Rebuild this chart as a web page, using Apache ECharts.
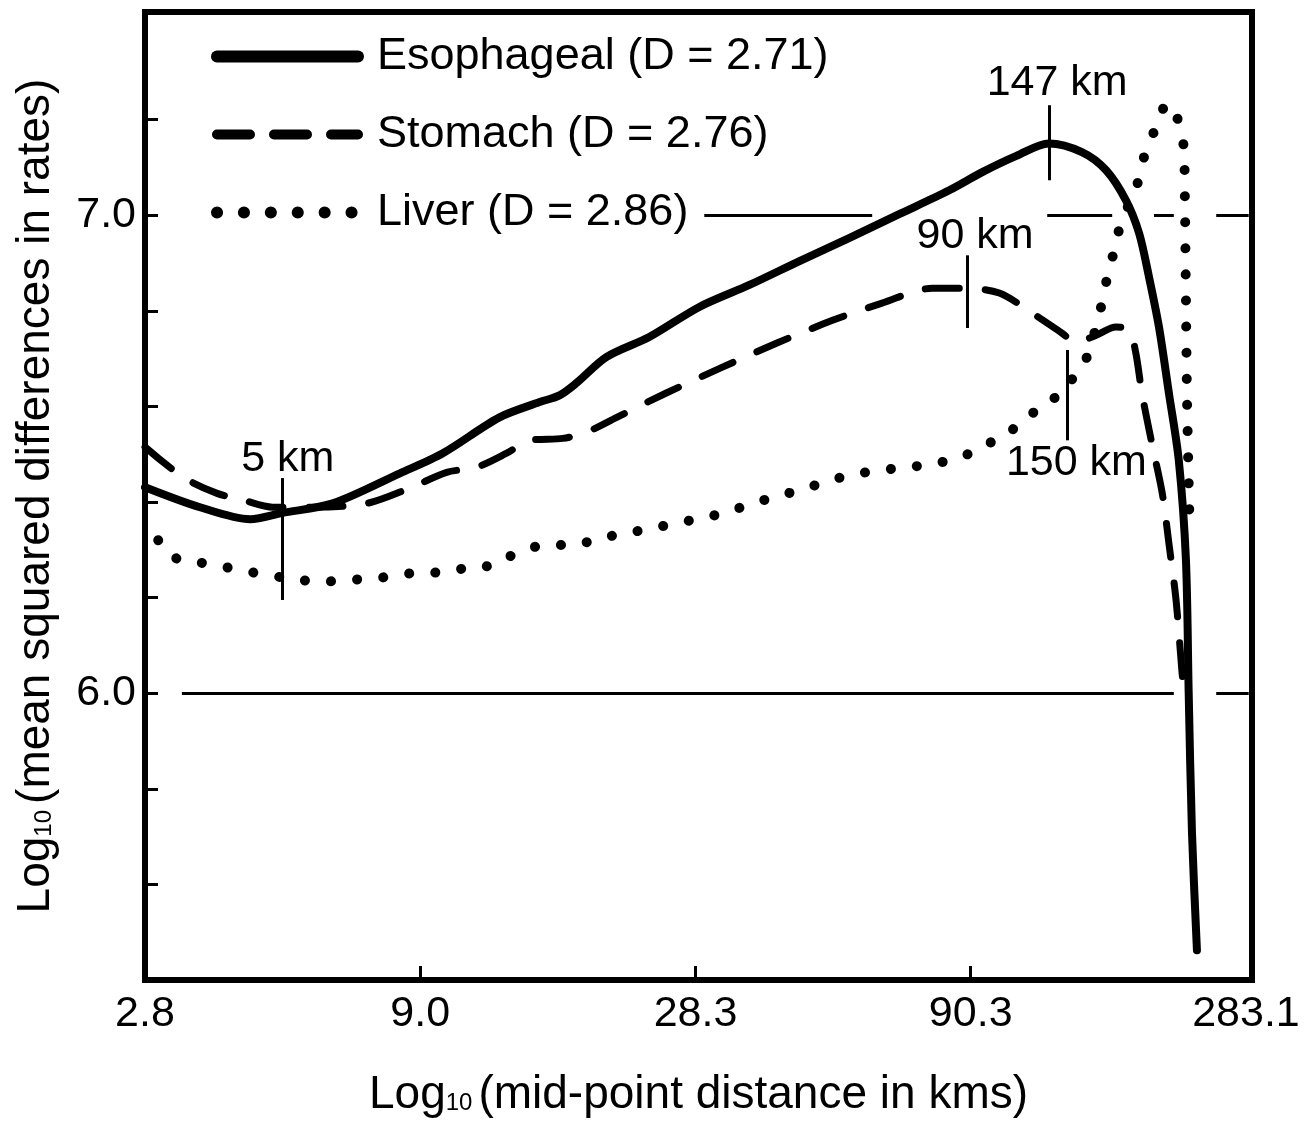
<!DOCTYPE html>
<html><head><meta charset="utf-8">
<script src="https://cdn.jsdelivr.net/npm/echarts@6/dist/echarts.min.js"></script>
<style>html,body{margin:0;padding:0;background:#fff}#c{width:1313px;height:1126px}</style>
</head><body><div id="c"></div>
<script>
// x values are log10(mid-point distance in km) positions on the axis
const xTickValues = [0.45, 0.95, 1.45, 1.95, 2.45];
const xTickLabels = ['2.8', '9.0', '28.3', '90.3', '283.1'];
const xInnerTicks = [0.95, 1.45, 1.95];
const yTickValues = [5.6, 5.8, 6.0, 6.2, 6.4, 6.6, 6.8, 7.0, 7.2];
const yLabelValues = [6.0, 7.0];
const seriesNames = ['Esophageal (D = 2.71)', 'Stomach (D = 2.76)', 'Liver (D = 2.86)'];

const esophageal = [
  [0.45,6.431],[0.55,6.389],[0.641,6.364],[0.699,6.377],[0.791,6.397],[0.913,6.46],[0.991,6.502],
  [1.094,6.577],[1.167,6.609],[1.203,6.623],[1.234,6.649],[1.288,6.703],[1.366,6.745],[1.457,6.808],
  [1.548,6.854],[1.639,6.904],[1.729,6.952],[1.82,7.002],[1.911,7.052],[1.971,7.09],[2.033,7.124],
  [2.092,7.15],[2.152,7.132],[2.196,7.094],[2.232,7.031],[2.256,6.962],[2.274,6.87],[2.292,6.766],
  [2.31,6.628],[2.328,6.487],[2.341,6.278],[2.346,6.0],[2.352,5.707],[2.361,5.462]
];
const stomach = [
  [0.45,6.515],[0.519,6.452],[0.581,6.418],[0.628,6.404],[0.682,6.389],[0.755,6.389],[0.853,6.397],
  [0.931,6.429],[0.998,6.462],[1.053,6.473],[1.107,6.502],[1.149,6.529],[1.209,6.533],[1.252,6.546],
  [1.307,6.577],[1.397,6.628],[1.499,6.682],[1.597,6.732],[1.699,6.78],[1.789,6.816],[1.88,6.847],
  [1.942,6.847],[2.002,6.837],[2.062,6.795],[2.116,6.753],[2.141,6.734],[2.178,6.749],[2.214,6.766],
  [2.238,6.759],[2.25,6.711],[2.261,6.628],[2.279,6.523],[2.298,6.418],[2.31,6.314],[2.323,6.195],
  [2.334,6.042],[2.337,6.01]
];
const liver = [
  [0.474,6.32],[0.501,6.285],[0.546,6.274],[0.595,6.264],[0.644,6.253],[0.695,6.243],[0.739,6.236],
  [0.786,6.234],[0.835,6.238],[0.889,6.243],[0.936,6.251],[0.985,6.253],[1.036,6.262],[1.082,6.268],
  [1.125,6.293],[1.18,6.31],[1.227,6.31],[1.276,6.324],[1.325,6.335],[1.372,6.345],[1.416,6.356],
  [1.461,6.366],[1.508,6.379],[1.548,6.395],[1.593,6.41],[1.639,6.425],[1.684,6.441],[1.729,6.456],
  [1.771,6.464],[1.82,6.471],[1.866,6.477],[1.911,6.487],[1.953,6.504],[1.993,6.529],[2.029,6.554],
  [2.065,6.588],[2.096,6.613],[2.123,6.634],[2.138,6.665],[2.161,6.703],[2.189,6.818],[2.198,6.87],
  [2.21,6.923],[2.223,6.983],[2.25,7.056],[2.261,7.1],[2.268,7.136],[2.287,7.184],[2.307,7.234],
  [2.328,7.195],[2.337,7.14],[2.339,7.036],[2.341,6.822],[2.343,6.613],[2.347,6.383]
];
// reference lines: [y, xStart, xEnd]
const refLines = [
  [7.0, 1.466, 1.771], [7.0, 2.089, 2.207], [7.0, 2.283, 2.319], [7.0, 2.396, 2.455],
  [6.0, 0.517, 2.319], [6.0, 2.396, 2.455]
];
// annotations: text, tick x, tick y range, label position
const annotations = [
  {text: '5 km',   x: 0.699, y0: 6.195, y1: 6.45,  lx: 0.7095, ly: 6.49},
  {text: '147 km', x: 2.092, y0: 7.073, y1: 7.23,  lx: 2.107,  ly: 7.276},
  {text: '90 km',  x: 1.944, y0: 6.764, y1: 6.916, lx: 1.958,  ly: 6.956},
  {text: '150 km', x: 2.125, y0: 6.529, y1: 6.718, lx: 2.142,  ly: 6.482}
];

const FONT = 'Liberation Sans, Arial, sans-serif';
const chart = echarts.init(document.getElementById('c'), null, {renderer: 'canvas'});

const markLineData = refLines.map(r => [{coord: [r[1], r[0]]}, {coord: [r[2], r[0]]}])
  .concat(annotations.map(a => [{coord: [a.x, a.y0]}, {coord: [a.x, a.y1]}]));

const nameRich = {
  a: {fontSize: 46, fontFamily: FONT, color: '#000'},
  s: {fontSize: 24, fontFamily: FONT, color: '#000', padding: [16, 6, 0, 0]}
};

chart.setOption({
  animation: false,
  backgroundColor: '#fff',
  grid: {left: 145, right: 61, top: 12, bottom: 146, show: true, borderColor: '#000', borderWidth: 6,
         backgroundColor: 'transparent', containLabel: false, outerBoundsMode: 'none'},
  legend: {
    orient: 'vertical', left: 206, top: 29, padding: 5, itemWidth: 141, itemHeight: 14, itemGap: 33,
    selectedMode: false,
    itemStyle: {opacity: 0},
    formatter: n => '{t|' + n + '}',
    textStyle: {fontSize: 45, fontFamily: FONT, color: '#000',
      rich: {t: {fontSize: 45, fontFamily: FONT, color: '#000', lineHeight: 50, padding: [0, 0, 0, 14]}}},
    data: [
      {name: seriesNames[0], lineStyle: {width: 12, type: 'solid', cap: 'round', color: '#000'}},
      {name: seriesNames[1], lineStyle: {width: 10, type: [33, 24], cap: 'round', color: '#000'}},
      {name: seriesNames[2], lineStyle: {width: 12, type: [0.1, 26.8], cap: 'round', color: '#000'}}
    ]
  },
  xAxis: {
    type: 'value', min: 0.45, max: 2.461,
    axisLine: {show: false},
    splitLine: {show: false},
    axisTick: {show: true, inside: true, length: 14, customValues: xInnerTicks, lineStyle: {color: '#000', width: 3}},
    axisLabel: {customValues: xTickValues, fontSize: 43, fontFamily: FONT, color: '#000', margin: 13,
      formatter: v => { const i = xTickValues.findIndex(t => Math.abs(t - v) < 1e-6); return i >= 0 ? xTickLabels[i] : ''; }},
    name: '{a|Log}{s|10}{a|(mid-point distance in kms)}',
    nameLocation: 'middle', nameGap: 92,
    nameTextStyle: {fontSize: 46, fontFamily: FONT, color: '#000', rich: nameRich}
  },
  yAxis: {
    type: 'value', min: 5.4, max: 7.425,
    axisLine: {show: false},
    splitLine: {show: false},
    axisTick: {show: true, inside: true, length: 13, customValues: yTickValues, lineStyle: {color: '#000', width: 3}},
    axisLabel: {customValues: yLabelValues, fontSize: 43, fontFamily: FONT, color: '#000', margin: 9,
      formatter: v => v.toFixed(1)},
    name: '{a|Log}{s|10}{a|(mean squared differences in rates)}',
    nameLocation: 'middle', nameGap: 86, nameRotate: 90,
    nameTextStyle: {fontSize: 46, fontFamily: FONT, color: '#000', rich: nameRich}
  },
  series: [
    {
      name: '__annot', type: 'scatter', symbolSize: 1, itemStyle: {color: 'rgba(0,0,0,0)', opacity: 1},
      silent: true, z: 1,
      data: annotations.map(a => [a.lx, a.ly, a.text]),
      label: {show: true, position: 'inside', formatter: p => p.value[2], fontSize: 43, fontFamily: FONT,
              color: '#000', opacity: 1, textBorderWidth: 0},
      labelLayout: {hideOverlap: false},
      markLine: {silent: true, symbol: ['none', 'none'], label: {show: false},
        lineStyle: {type: 'solid', width: 3, color: '#000', opacity: 1}, emphasis: {disabled: true},
        data: markLineData}
    },
    {name: seriesNames[0], type: 'line', data: esophageal, symbol: 'none', smooth: 0.3, z: 3,
     lineStyle: {width: 8, color: '#000', type: 'solid', cap: 'round', join: 'round'}, itemStyle: {color: '#000'}},
    {name: seriesNames[1], type: 'line', data: stomach, symbol: 'none', smooth: 0.3, z: 3,
     lineStyle: {width: 7, color: '#000', type: [34, 26], cap: 'round', join: 'round'}, itemStyle: {color: '#000'}},
    {name: seriesNames[2], type: 'line', data: liver, symbol: 'none', smooth: 0.3, z: 3,
     lineStyle: {width: 10, color: '#000', type: [0.1, 26], cap: 'round', join: 'round'}, itemStyle: {color: '#000'}}
  ]
});
</script></body></html>
